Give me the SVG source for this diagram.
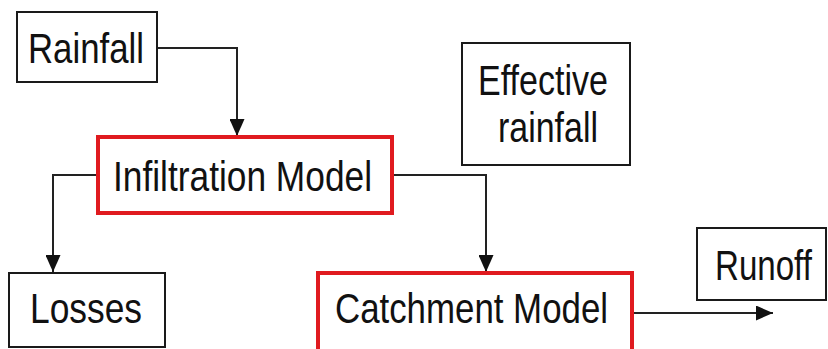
<svg xmlns="http://www.w3.org/2000/svg" width="828" height="349" viewBox="0 0 828 349">
<style>
.box{fill:#fff;stroke:#1a1a1a;stroke-width:2}
.red{fill:#fff;stroke:#e01a1f;stroke-width:4}
.lbl{font-family:"Liberation Sans",Arial,sans-serif;font-size:43px;fill:#111}
.con{fill:none;stroke:#222;stroke-width:2}
</style>
<defs>
<marker id="ah" markerWidth="17" markerHeight="15" refX="17" refY="7.5" orient="auto" markerUnits="userSpaceOnUse">
<path d="M0,0 L17,7.5 L0,15 Z" fill="#111"/>
</marker>
</defs>
<rect width="828" height="349" fill="#fff"/>
<g id="connectors">
<path class="con" d="M157,48 H237 V136" marker-end="url(#ah)"/>
<path class="con" d="M98,175 H53 V272" marker-end="url(#ah)"/>
<path class="con" d="M392,175 H486 V272" marker-end="url(#ah)"/>
<path class="con" d="M632,313 H773" marker-end="url(#ah)"/>
</g>
<g id="rainfall">
<rect class="box" x="17" y="12" width="140" height="70"/>
<text class="lbl" x="28" y="63" textLength="116" lengthAdjust="spacingAndGlyphs">Rainfall</text>
</g>
<g id="infiltration">
<rect class="red" x="98" y="137" width="294" height="76"/>
<text class="lbl" x="113" y="191" textLength="259" lengthAdjust="spacingAndGlyphs">Infiltration Model</text>
</g>
<g id="effective">
<rect class="box" x="462" y="43" width="168" height="122"/>
<text class="lbl" x="478" y="95" textLength="130" lengthAdjust="spacingAndGlyphs">Effective</text>
<text class="lbl" x="498" y="142" textLength="100" lengthAdjust="spacingAndGlyphs">rainfall</text>
</g>
<g id="losses">
<rect class="box" x="9" y="273" width="156" height="74"/>
<text class="lbl" x="30" y="323" textLength="112" lengthAdjust="spacingAndGlyphs">Losses</text>
</g>
<g id="catchment">
<rect class="red" x="318" y="273" width="314" height="80"/>
<text class="lbl" x="335" y="323" textLength="273" lengthAdjust="spacingAndGlyphs">Catchment Model</text>
</g>
<g id="runoff">
<rect class="box" x="697" y="228" width="129" height="72"/>
<text class="lbl" transform="translate(715,280) scale(0.77,1)">Runoff</text>
</g>
</svg>
